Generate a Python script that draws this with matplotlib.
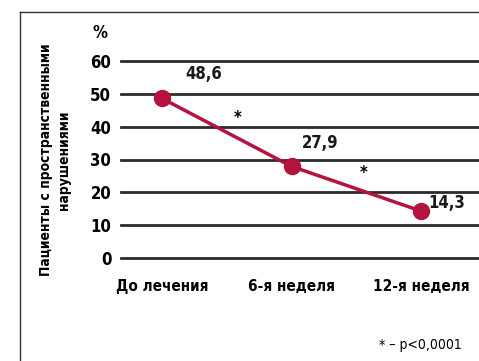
import matplotlib
matplotlib.use("Agg")
import matplotlib.pyplot as plt
from matplotlib.lines import Line2D

# Data
categories = ["До лечения", "6-я неделя", "12-я неделя"]
values = [48.6, 27.9, 14.3]
value_labels = ["48,6", "27,9", "14,3"]
y_ticks = [0, 10, 20, 30, 40, 50, 60]
y_title = "Пациенты с пространственными\nнарушениями"
footnote = "* – p<0,0001"

plt.rcParams["font.family"] = ["DejaVu Sans"]
plt.rcParams["font.stretch"] = "condensed"
plt.rcParams["font.weight"] = "bold"

W, H = 479, 361
fig = plt.figure(figsize=(W / 100, H / 100), dpi=100)
fig.patch.set_facecolor("white")

# plot area in pixels
x0, x1 = 121, 479
y_top, y_bot = 61, 258
ax = fig.add_axes([x0 / W, 1 - y_bot / H, (x1 - x0) / W, (y_bot - y_top) / H])
ax.set_xlim(-0.317, 2.448)
ax.set_ylim(0, 60)
for s in ax.spines.values():
    s.set_visible(False)
ax.set_facecolor("none")

for t in y_ticks:
    ax.axhline(t, color="#2b2b2b", lw=2.0, clip_on=False, zorder=1)

ax.set_yticks(y_ticks)
ax.set_yticklabels([str(t) for t in y_ticks], fontsize=12, fontweight="bold")
ax.tick_params(axis="y", length=0, pad=7)
ax.set_xticks(range(len(categories)))
ax.set_xticklabels(categories, fontsize=11, fontweight="bold")
ax.tick_params(axis="x", length=0, pad=15)

xs = list(range(len(values)))
ax.plot(xs, values, color="#b5123e", lw=2.5, marker="o", markersize=11.5,
        zorder=3, clip_on=False)

offsets = [(0.32, 7.3), (0.22, 7.0), (0.2, 2.6)]
for x, v, lab, (dx, dy) in zip(xs, values, value_labels, offsets):
    ax.text(x + dx, v + dy, lab, fontsize=12, fontweight="bold",
            ha="center", va="center", color="#1a1a1a")

ax.text(0.58, 42.5, "*", fontsize=12, fontweight="bold", ha="center", va="center")
ax.text(1.56, 26.0, "*", fontsize=12, fontweight="bold", ha="center", va="center")

fig.text(100 / W, 1 - 33 / H, "%", fontsize=12, fontweight="bold",
         ha="center", va="center")
fig.text(55 / W, 1 - 160 / H, y_title, rotation=90, fontsize=10,
         fontweight="bold", ha="center", va="center", linespacing=1.35)
fig.text(462 / W, 1 - 345 / H, footnote, fontsize=10, fontweight="normal",
         ha="right", va="center")

# frame: left and top edges
fig.add_artist(Line2D([20 / W, 20 / W], [1 - 12 / H, 0], transform=fig.transFigure,
                      color="#333333", lw=1.0))
fig.add_artist(Line2D([20 / W, 1.01], [1 - 12 / H, 1 - 12 / H], transform=fig.transFigure,
                      color="#333333", lw=1.0))

fig.savefig("out.png", dpi=100)
